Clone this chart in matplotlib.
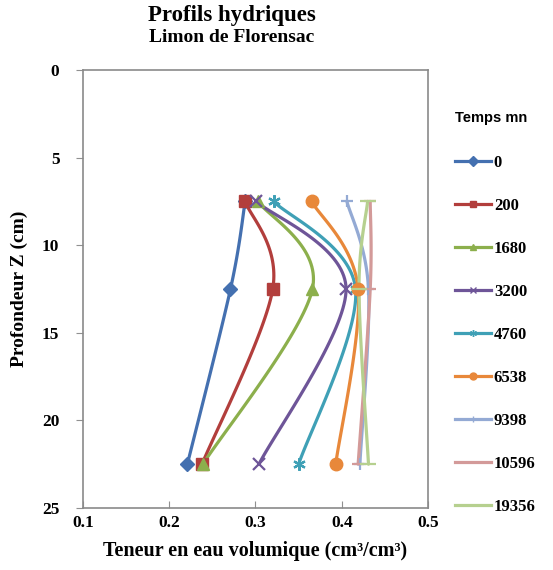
import numpy as np
import matplotlib
matplotlib.use("Agg")
import matplotlib.pyplot as plt
from matplotlib.lines import Line2D

# ---- data ----
depths = [7.5, 12.5, 22.5]
series_labels = ["0", "200", "1680", "3200", "4760", "6538", "9398", "10596", "19356"]
theta_0 = [0.288, 0.271, 0.221]
theta_200 = [0.288, 0.320, 0.238]
theta_1680 = [0.303, 0.366, 0.239]
theta_3200 = [0.301, 0.405, 0.304]
theta_4760 = [0.321, 0.416, 0.350]
theta_6538 = [0.365, 0.419, 0.393]
theta_9398 = [0.406, 0.431, 0.421]
theta_10596 = [0.433, 0.433, 0.419]
theta_19356 = [0.430, 0.420, 0.431]
series_values = [theta_0, theta_200, theta_1680, theta_3200, theta_4760,
                 theta_6538, theta_9398, theta_10596, theta_19356]
x_ticks = [0.1, 0.2, 0.3, 0.4, 0.5]
y_ticks = [0, 5, 10, 15, 20, 25]

colors = ["#4470B0", "#B23E3C", "#8CAF4C", "#6E5598", "#3FA0B6",
          "#E8883A", "#94AAD4", "#D39A99", "#B6D08F"]
markers = ["D", "s", "^", "x", (6, 2, 0), "o", "+", "_", "_"]
msizes = [7, 9, 8, 8, 9, 9, 9, 9, 11]

serif = "Liberation Serif"


def excel_smooth(xs, ys, n=40):
    P = np.column_stack([xs, ys]).astype(float)
    m = len(P)
    out = [P[0]]
    for i in range(m - 1):
        p_prev = P[i - 1] if i > 0 else P[i]
        p_next = P[i + 2] if i + 2 < m else P[i + 1]
        c1 = P[i] + (P[i + 1] - p_prev) / 6.0
        c2 = P[i + 1] - (p_next - P[i]) / 6.0
        t = np.linspace(0, 1, n)[1:, None]
        b = ((1 - t) ** 3) * P[i] + 3 * ((1 - t) ** 2) * t * c1 + \
            3 * (1 - t) * t ** 2 * c2 + t ** 3 * P[i + 1]
        out.extend(b)
    out = np.array(out)
    return out[:, 0], out[:, 1]


fig = plt.figure(figsize=(5.53, 5.70), dpi=100)
ax = fig.add_axes([83 / 553, 1 - 508 / 570, (428 - 83) / 553, (508 - 70) / 570])

handles = []
for lab, vals, c, mk, ms in zip(series_labels, series_values, colors, markers, msizes):
    sx, sy = excel_smooth(vals, depths)
    ax.plot(sx, sy, color=c, lw=2.3, solid_capstyle="round", zorder=2)
    ax.plot(vals, depths, linestyle="none", marker=mk, color=c, markersize=ms,
            markeredgewidth=1.6 if mk in ("x", "+", "_") or isinstance(mk, tuple) else 1,
            markeredgecolor=c, zorder=3)
    handles.append(Line2D([], [], color=c, lw=2.3, marker=mk, markersize=5,
                          markeredgecolor=c, markeredgewidth=1.0))

ax.set_xlim(0.1, 0.5)
ax.set_ylim(25, 0)
ax.set_xticks(x_ticks)
ax.set_yticks(y_ticks)
ax.set_xticklabels([f"{v:.1f}" for v in x_ticks], fontfamily=serif,
                   fontweight="bold", fontsize=12.5)
ax.set_yticklabels([str(v) for v in y_ticks], fontfamily=serif,
                   fontweight="bold", fontsize=12.5)
ax.tick_params(axis="x", direction="in", length=5, color="#909090", pad=5)
ax.tick_params(axis="y", direction="out", length=5, color="#909090", pad=12)
for sp in ax.spines.values():
    sp.set_color("#8a8a8a")
    sp.set_linewidth(1.2)

ax.set_xlabel("Teneur en eau volumique (cm³/cm³)", fontfamily=serif,
              fontweight="bold", fontsize=14.5, labelpad=7)
ax.set_ylabel("Profondeur Z (cm)", fontfamily=serif, fontweight="bold",
              fontsize=14, labelpad=10)

fig.text(232 / 553, 1 - 15 / 570, "Profils hydriques", fontfamily=serif,
         fontweight="bold", fontsize=16.5, ha="center", va="center")
fig.text(232 / 553, 1 - 37 / 570, "Limon de Florensac", fontfamily=serif,
         fontweight="bold", fontsize=14, ha="center", va="center")

leg = fig.legend(handles, series_labels, loc="upper left",
                 bbox_to_anchor=(448 / 553, 1 - 104 / 570),
                 frameon=False, title="Temps mn",
                 prop={"family": serif, "weight": "bold", "size": 12},
                 handlelength=2.2, handletextpad=0.15, labelspacing=1.62,
                 borderaxespad=0, alignment="left")
leg.get_title().set_fontfamily("Liberation Sans")
leg.get_title().set_fontweight("bold")
leg.get_title().set_fontsize(10.5)
leg._legend_box.sep = 22

fig.savefig("out.png", dpi=100)
